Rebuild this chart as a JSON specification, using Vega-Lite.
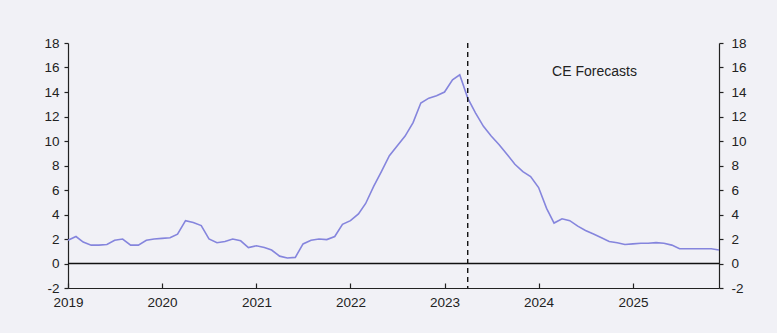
{
  "$schema": "https://vega.github.io/schema/vega-lite/v6.json",
  "width": 651,
  "height": 245,
  "autosize": {"type": "none"},
  "padding": {"left": 68, "top": 43, "right": 58, "bottom": 45},
  "background": "#f1f1f6",
  "config": {
    "view": {"stroke": null},
    "axis": {"grid": false, "labelFont": "Liberation Sans", "labelFontSize": 13.5, "labelColor": "#222", "domainColor": "#222", "tickColor": "#222", "domainWidth": 1.2, "tickWidth": 1.2, "title": null}
  },
  "data": {"values": [
    {"date": "2019-01-01", "v": 1.9}, {"date": "2019-02-01", "v": 2.2}, {"date": "2019-03-01", "v": 1.75}, {"date": "2019-04-01", "v": 1.5}, {"date": "2019-05-01", "v": 1.5}, {"date": "2019-06-01", "v": 1.55}, {"date": "2019-07-01", "v": 1.9}, {"date": "2019-08-01", "v": 2.0}, {"date": "2019-09-01", "v": 1.5}, {"date": "2019-10-01", "v": 1.5}, {"date": "2019-11-01", "v": 1.9}, {"date": "2019-12-01", "v": 2.0},
    {"date": "2020-01-01", "v": 2.05}, {"date": "2020-02-01", "v": 2.1}, {"date": "2020-03-01", "v": 2.4}, {"date": "2020-04-01", "v": 3.5}, {"date": "2020-05-01", "v": 3.35}, {"date": "2020-06-01", "v": 3.1}, {"date": "2020-07-01", "v": 2.0}, {"date": "2020-08-01", "v": 1.7}, {"date": "2020-09-01", "v": 1.8}, {"date": "2020-10-01", "v": 2.0}, {"date": "2020-11-01", "v": 1.85}, {"date": "2020-12-01", "v": 1.3},
    {"date": "2021-01-01", "v": 1.45}, {"date": "2021-02-01", "v": 1.3}, {"date": "2021-03-01", "v": 1.1}, {"date": "2021-04-01", "v": 0.6}, {"date": "2021-05-01", "v": 0.45}, {"date": "2021-06-01", "v": 0.5}, {"date": "2021-07-01", "v": 1.6}, {"date": "2021-08-01", "v": 1.9}, {"date": "2021-09-01", "v": 2.0}, {"date": "2021-10-01", "v": 1.95}, {"date": "2021-11-01", "v": 2.2}, {"date": "2021-12-01", "v": 3.2},
    {"date": "2022-01-01", "v": 3.5}, {"date": "2022-02-01", "v": 4.05}, {"date": "2022-03-01", "v": 4.9}, {"date": "2022-04-01", "v": 6.3}, {"date": "2022-05-01", "v": 7.5}, {"date": "2022-06-01", "v": 8.8}, {"date": "2022-07-01", "v": 9.6}, {"date": "2022-08-01", "v": 10.4}, {"date": "2022-09-01", "v": 11.5}, {"date": "2022-10-01", "v": 13.1}, {"date": "2022-11-01", "v": 13.5}, {"date": "2022-12-01", "v": 13.7},
    {"date": "2023-01-01", "v": 14.0}, {"date": "2023-02-01", "v": 15.0}, {"date": "2023-03-01", "v": 15.4}, {"date": "2023-04-01", "v": 13.5}, {"date": "2023-05-01", "v": 12.3}, {"date": "2023-06-01", "v": 11.2}, {"date": "2023-07-01", "v": 10.4}, {"date": "2023-08-01", "v": 9.7}, {"date": "2023-09-01", "v": 8.9}, {"date": "2023-10-01", "v": 8.1}, {"date": "2023-11-01", "v": 7.5}, {"date": "2023-12-01", "v": 7.1},
    {"date": "2024-01-01", "v": 6.2}, {"date": "2024-02-01", "v": 4.5}, {"date": "2024-03-01", "v": 3.3}, {"date": "2024-04-01", "v": 3.65}, {"date": "2024-05-01", "v": 3.5}, {"date": "2024-06-01", "v": 3.05}, {"date": "2024-07-01", "v": 2.7}, {"date": "2024-08-01", "v": 2.4}, {"date": "2024-09-01", "v": 2.1}, {"date": "2024-10-01", "v": 1.8}, {"date": "2024-11-01", "v": 1.7}, {"date": "2024-12-01", "v": 1.55},
    {"date": "2025-01-01", "v": 1.6}, {"date": "2025-02-01", "v": 1.65}, {"date": "2025-03-01", "v": 1.65}, {"date": "2025-04-01", "v": 1.7}, {"date": "2025-05-01", "v": 1.65}, {"date": "2025-06-01", "v": 1.5}, {"date": "2025-07-01", "v": 1.2}, {"date": "2025-08-01", "v": 1.2}, {"date": "2025-09-01", "v": 1.2}, {"date": "2025-10-01", "v": 1.2}, {"date": "2025-11-01", "v": 1.2}, {"date": "2025-12-01", "v": 1.1}
  ]},
  "layer": [
    {
      "mark": {"type": "line", "color": "#8585dd", "strokeWidth": 1.6},
      "encoding": {
        "x": {"field": "date", "type": "temporal", "scale": {"domain": ["2019-01-01", "2025-12-01"]}, "axis": {"format": "%Y", "tickCount": "year", "tickSize": -5, "labelPadding": 12, "labelFlush": false}},
        "y": {"field": "v", "type": "quantitative", "scale": {"domain": [-2, 18], "nice": false}, "axis": {"orient": "left", "values": [-2, 0, 2, 4, 6, 8, 10, 12, 14, 16, 18], "tickSize": 4, "labelPadding": 5, "labelExpr": "replace(datum.label, '\u2212', '-')"}}
      }
    },
    {
      "data": {"values": [{"zero": 0}]},
      "mark": {"type": "rule", "color": "#111", "strokeWidth": 1.3},
      "encoding": {
        "y": {"field": "zero", "type": "quantitative", "axis": {"orient": "right", "values": [-2, 0, 2, 4, 6, 8, 10, 12, 14, 16, 18], "tickSize": 4, "labelPadding": 8, "labelExpr": "replace(datum.label, '\u2212', '-')"}}
      }
    },
    {
      "data": {"values": [{"d": "2023-04-01"}]},
      "mark": {"type": "rule", "color": "#111", "strokeWidth": 1.4, "strokeDash": [5, 4]},
      "encoding": {
        "x": {"field": "d", "type": "temporal"}
      }
    },
    {
      "data": {"values": [{"d": "2024-08-05", "y": 15.6, "label": "CE Forecasts"}]},
      "mark": {"type": "text", "font": "Liberation Sans", "fontSize": 14, "color": "#222"},
      "encoding": {
        "x": {"field": "d", "type": "temporal"},
        "y": {"field": "y", "type": "quantitative", "axis": null},
        "text": {"field": "label"}
      }
    }
  ],
  "resolve": {"axis": {"y": "independent"}}
}
